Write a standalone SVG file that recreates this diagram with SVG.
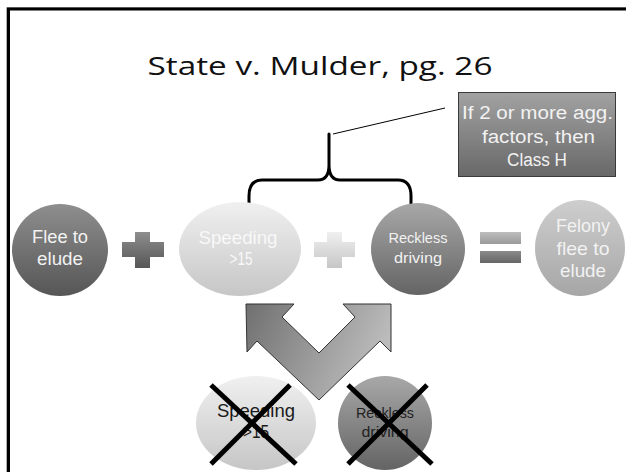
<svg xmlns="http://www.w3.org/2000/svg" width="626" height="472" viewBox="0 0 626 472">
<style>
text{font-family:"Liberation Sans",Arial,sans-serif;text-anchor:middle}
.ttl{font-family:"Open Sans","Liberation Sans",sans-serif}
.wt{fill:#f2f2f2}
.dk{fill:#1a1a1a}
.x{stroke:#000;stroke-width:5;stroke-linecap:butt}
</style>
<defs>
<linearGradient id="gDark" x1="0" y1="0" x2="0" y2="1"><stop offset="0" stop-color="#8e8e8e"/><stop offset="1" stop-color="#565656"/></linearGradient>
<linearGradient id="gLight" x1="0" y1="0" x2="0" y2="1"><stop offset="0" stop-color="#f0f0f0"/><stop offset="1" stop-color="#c6c6c6"/></linearGradient>
<linearGradient id="gMid" x1="0" y1="0" x2="0" y2="1"><stop offset="0" stop-color="#a8a8a8"/><stop offset="1" stop-color="#646464"/></linearGradient>
<linearGradient id="gFel" x1="0" y1="0" x2="0" y2="1"><stop offset="0" stop-color="#cecece"/><stop offset="1" stop-color="#a6a6a6"/></linearGradient>
<linearGradient id="gBox" x1="0" y1="0" x2="0" y2="1"><stop offset="0" stop-color="#a2a2a2"/><stop offset="1" stop-color="#686868"/></linearGradient>
<linearGradient id="gEq1" x1="0" y1="0" x2="0" y2="1"><stop offset="0" stop-color="#bdbdbd"/><stop offset="1" stop-color="#9a9a9a"/></linearGradient>
<linearGradient id="gEq2" x1="0" y1="0" x2="0" y2="1"><stop offset="0" stop-color="#8a8a8a"/><stop offset="1" stop-color="#666"/></linearGradient>
<linearGradient id="gArr" x1="0" y1="0" x2="1" y2="0.3"><stop offset="0" stop-color="#707070"/><stop offset="1" stop-color="#bcbcbc"/></linearGradient>
</defs>

<g id="frame">
<path d="M6.5,472 V7.5 H626" fill="none" stroke="#b0b0b0" stroke-width="1"/>
<path d="M8.5,472 V9 H626" fill="none" stroke="#000" stroke-width="3"/>
</g>

<g id="title">
<text class="ttl" x="320" y="75" font-size="26" fill="#111" textLength="345" lengthAdjust="spacingAndGlyphs">State v. Mulder, pg. 26</text>
</g>

<g id="callout">
<rect x="458.5" y="92.5" width="157" height="84" fill="url(#gBox)" stroke="#3a3a3a" stroke-width="1"/>
<text class="wt" x="537.5" y="119" font-size="18" textLength="151" lengthAdjust="spacingAndGlyphs">If 2 or more agg.</text>
<text class="wt" x="538.5" y="143" font-size="18" textLength="113" lengthAdjust="spacingAndGlyphs">factors, then</text>
<text class="wt" x="537" y="166" font-size="18" textLength="60" lengthAdjust="spacingAndGlyphs">Class H</text>
</g>

<g id="connectors">
<line x1="445" y1="108" x2="333" y2="134" stroke="#000" stroke-width="1"/>
<path d="M249,224 V196 Q249,180 262,180 H318 Q329,180 329,165 V134 V165 Q329,180 340,180 H398 Q411,180 411,196 V224" fill="none" stroke="#000" stroke-width="3" stroke-linejoin="round"/>
</g>

<g id="flee">
<ellipse cx="60" cy="250" rx="48" ry="46" fill="url(#gDark)"/>
<text class="wt" x="60" y="243" font-size="18" textLength="56" lengthAdjust="spacingAndGlyphs">Flee to</text>
<text class="wt" x="60" y="265" font-size="18" textLength="46" lengthAdjust="spacingAndGlyphs">elude</text>
</g>

<g id="plus1">
<path d="M135,232 H150 V242 H164 V257 H150 V268 H135 V257 H122 V242 H135 Z" fill="url(#gDark)"/>
</g>

<g id="speeding">
<ellipse cx="240" cy="249" rx="61" ry="47" fill="url(#gLight)"/>
<text x="238" y="244" font-size="18.5" fill="#f8f8f8" textLength="79" lengthAdjust="spacingAndGlyphs">Speeding</text>
<text x="241" y="265" font-size="18.5" fill="#f8f8f8" textLength="23" lengthAdjust="spacingAndGlyphs">&gt;15</text>
</g>

<g id="plus2">
<path d="M327,232 H342 V242 H355 V257 H342 V268 H327 V257 H314 V242 H327 Z" fill="url(#gLight)"/>
</g>

<g id="reckless">
<ellipse cx="418" cy="249" rx="47" ry="46" fill="url(#gMid)"/>
<text class="wt" x="418" y="243" font-size="15" textLength="59" lengthAdjust="spacingAndGlyphs">Reckless</text>
<text class="wt" x="418" y="263" font-size="15" textLength="48" lengthAdjust="spacingAndGlyphs">driving</text>
</g>

<g id="equals">
<rect x="480" y="232" width="41" height="12" fill="url(#gEq1)"/>
<rect x="480" y="251" width="41" height="12" fill="url(#gEq2)"/>
</g>

<g id="felony">
<ellipse cx="580" cy="248" rx="45" ry="48" fill="url(#gFel)"/>
<text class="wt" x="583" y="232" font-size="19" textLength="54" lengthAdjust="spacingAndGlyphs">Felony</text>
<text class="wt" x="583" y="255" font-size="19" textLength="53" lengthAdjust="spacingAndGlyphs">flee to</text>
<text class="wt" x="583" y="277" font-size="19" textLength="46" lengthAdjust="spacingAndGlyphs">elude</text>
</g>

<g id="double-arrow">
<polygon points="246,304 294,304 282,317 319,353 355,317 343,304 391,304 391,352 380,341 319,400 257,341 247,352" fill="url(#gArr)" stroke="#333" stroke-width="1" stroke-linejoin="miter"/>
</g>

<g id="speeding-crossed">
<ellipse cx="256" cy="423" rx="60" ry="47" fill="url(#gLight)"/>
<text class="dk" x="256" y="417" font-size="18.5" textLength="78" lengthAdjust="spacingAndGlyphs">Speeding</text>
<text class="dk" x="256" y="438" font-size="18.5" textLength="26" lengthAdjust="spacingAndGlyphs">&gt;15</text>
<line class="x" x1="211" y1="385" x2="296" y2="464"/>
<line class="x" x1="290" y1="385" x2="211" y2="464"/>
</g>

<g id="reckless-crossed">
<ellipse cx="385" cy="423" rx="47" ry="47" fill="url(#gMid)"/>
<text x="385" y="418" font-size="15" fill="#222" textLength="58" lengthAdjust="spacingAndGlyphs">Reckless</text>
<text x="385" y="437" font-size="15" fill="#222" textLength="47" lengthAdjust="spacingAndGlyphs">driving</text>
<line class="x" x1="348" y1="385" x2="432" y2="464"/>
<line class="x" x1="427" y1="385" x2="348" y2="464"/>
</g>
</svg>
